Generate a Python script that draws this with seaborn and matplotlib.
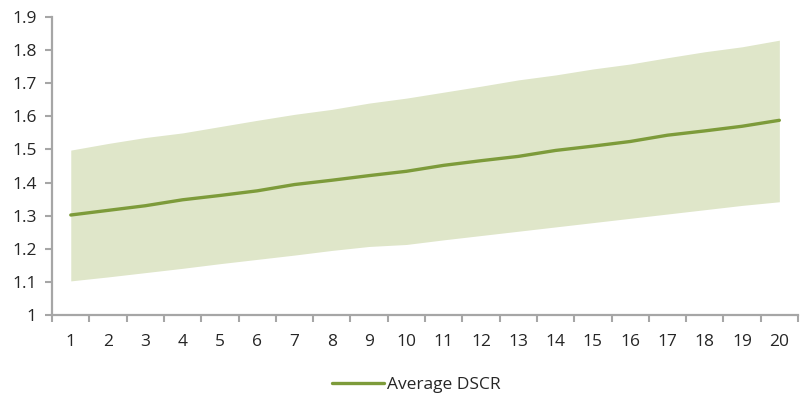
import matplotlib
matplotlib.use("Agg")
import matplotlib.pyplot as plt
import seaborn as sns
import pandas as pd
import numpy as np

years = list(range(1, 21))
avg_dscr = [1.302, 1.316, 1.330, 1.348, 1.361, 1.375, 1.394, 1.407, 1.421, 1.434,
            1.452, 1.466, 1.479, 1.497, 1.510, 1.524, 1.543, 1.556, 1.570, 1.588]
upper = [1.498, 1.518, 1.536, 1.550, 1.569, 1.588, 1.606, 1.621, 1.640, 1.655,
         1.673, 1.691, 1.710, 1.725, 1.743, 1.758, 1.777, 1.795, 1.810, 1.830]
lower = [1.103, 1.115, 1.128, 1.141, 1.155, 1.168, 1.181, 1.195, 1.207, 1.213,
         1.227, 1.240, 1.253, 1.266, 1.279, 1.292, 1.305, 1.318, 1.331, 1.342]
yticks = [1, 1.1, 1.2, 1.3, 1.4, 1.5, 1.6, 1.7, 1.8, 1.9]

sns.set_style("white")
plt.rcParams["font.family"] = ["Open Sans", "DejaVu Sans"]

df = pd.DataFrame({"year": years, "Average DSCR": avg_dscr})

fig = plt.figure(figsize=(8.02, 4.0), dpi=100)
ax = fig.add_axes([0.065, 0.2125, 0.93, 0.745])

band_col = "#dfe6c9"
line_col = "#7d9b3a"
axis_col = "#a6a6a6"
text_col = "#262626"

ax.fill_between(years, lower, upper, color=band_col, linewidth=0, zorder=1)
sns.lineplot(data=df, x="year", y="Average DSCR", color=line_col, linewidth=2.4,
             ax=ax, label="Average DSCR", zorder=3)

ax.set_xlim(0.5, 20.5)
ax.set_ylim(1, 1.9)
ax.set_yticks(yticks)
ax.set_yticklabels([f"{v:g}" for v in yticks])
ax.set_xticks(years)
ax.set_xticklabels([str(y) for y in years])
ax.set_xticks(np.arange(0.5, 21, 1), minor=True)
ax.set_xlabel("")
ax.set_ylabel("")

for s in ["top", "right"]:
    ax.spines[s].set_visible(False)
for s in ["left", "bottom"]:
    ax.spines[s].set_color(axis_col)
    ax.spines[s].set_linewidth(1.6)

ax.tick_params(axis="y", which="major", length=5, width=1.5, color=axis_col,
               labelsize=12.5, labelcolor=text_col, pad=6, left=True, direction="out")
ax.tick_params(axis="x", which="major", length=0, labelsize=12.5,
               labelcolor=text_col, pad=14)
ax.tick_params(axis="x", which="minor", length=5, width=1.5, color=axis_col,
               bottom=True, direction="out")

leg = ax.legend(loc="center", bbox_to_anchor=(0.488, -0.235), frameon=False,
                fontsize=12.5, handlelength=3.0, handletextpad=0.15,
                borderpad=0.1)
for t in leg.get_texts():
    t.set_color(text_col)

fig.savefig("out.png", dpi=100)
